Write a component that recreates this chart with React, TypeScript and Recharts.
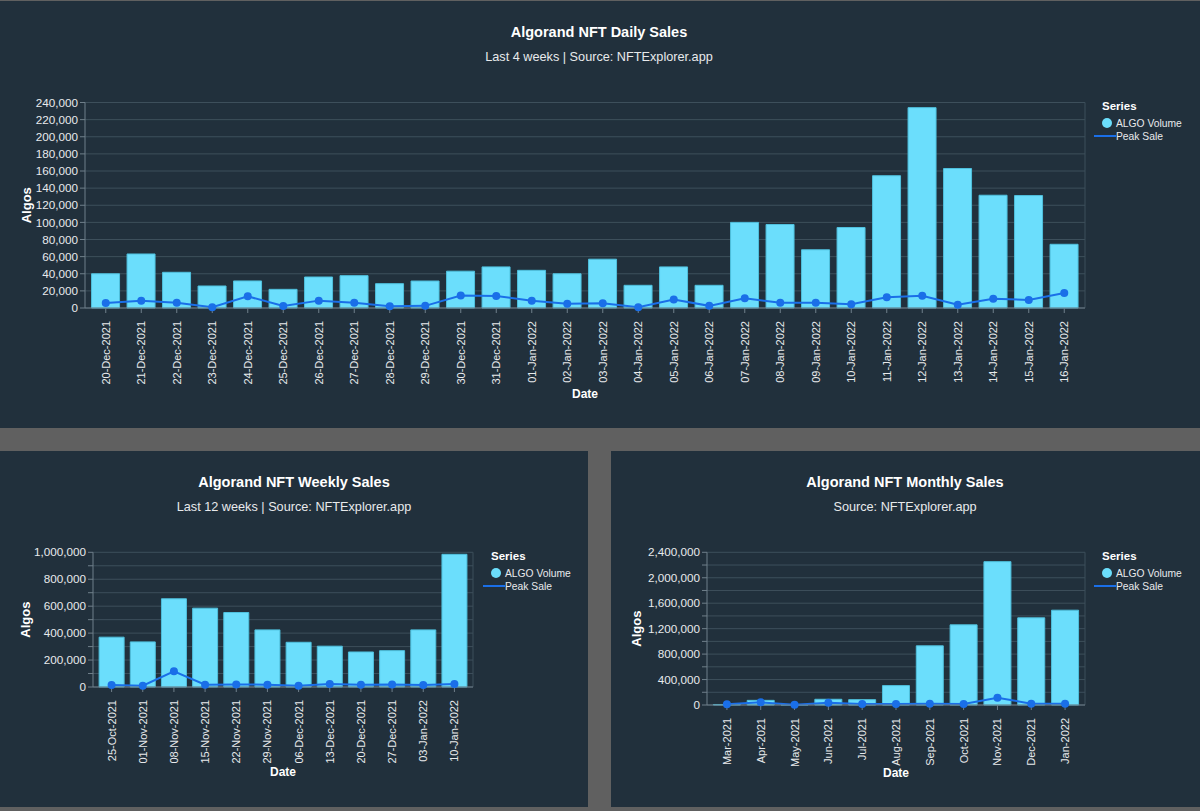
import { ComposedChart, Bar, Line, XAxis, YAxis, CartesianGrid } from 'recharts';

const dailyDates = ['20-Dec-2021', '21-Dec-2021', '22-Dec-2021', '23-Dec-2021', '24-Dec-2021', '25-Dec-2021', '26-Dec-2021', '27-Dec-2021', '28-Dec-2021', '29-Dec-2021', '30-Dec-2021', '31-Dec-2021', '01-Jan-2022', '02-Jan-2022', '03-Jan-2022', '04-Jan-2022', '05-Jan-2022', '06-Jan-2022', '07-Jan-2022', '08-Jan-2022', '09-Jan-2022', '10-Jan-2022', '11-Jan-2022', '12-Jan-2022', '13-Jan-2022', '14-Jan-2022', '15-Jan-2022', '16-Jan-2022'];
const dailyVolume = [40000, 63100, 41700, 25700, 31600, 21800, 36200, 37800, 28400, 31500, 43000, 48000, 44000, 40000, 57000, 26500, 48000, 26500, 100000, 97500, 68000, 94000, 154500, 234000, 162900, 131700, 131300, 74400];
const dailyPeak = [5800, 8600, 6200, 800, 13600, 2300, 8600, 6200, 2000, 2500, 14500, 14000, 8500, 5000, 5500, 1000, 10000, 2500, 11500, 6000, 6000, 4500, 12500, 14400, 3900, 10900, 9400, 17500];
const dailyTicks = [0, 20000, 40000, 60000, 80000, 100000, 120000, 140000, 160000, 180000, 200000, 220000, 240000];

const weeklyDates = ['25-Oct-2021', '01-Nov-2021', '08-Nov-2021', '15-Nov-2021', '22-Nov-2021', '29-Nov-2021', '06-Dec-2021', '13-Dec-2021', '20-Dec-2021', '27-Dec-2021', '03-Jan-2022', '10-Jan-2022'];
const weeklyVolume = [370000, 335000, 655000, 585000, 553000, 424000, 332000, 303000, 260000, 270000, 424000, 985000];
const weeklyPeak = [15000, 10000, 117000, 17000, 19000, 17000, 10000, 22000, 17000, 19000, 15000, 22000];
const weeklyTicks = [0, 100000, 200000, 300000, 400000, 500000, 600000, 700000, 800000, 900000, 1000000];

const monthlyDates = ['Mar-2021', 'Apr-2021', 'May-2021', 'Jun-2021', 'Jul-2021', 'Aug-2021', 'Sep-2021', 'Oct-2021', 'Nov-2021', 'Dec-2021', 'Jan-2022'];
const monthlyVolume = [8000, 73000, 5000, 90000, 84000, 305000, 930000, 1260000, 2253000, 1370000, 1490000];
const monthlyPeak = [10000, 42000, 5000, 37000, 16000, 16000, 21000, 16000, 115000, 21000, 21000];
const monthlyTicks = [0, 200000, 400000, 600000, 800000, 1000000, 1200000, 1400000, 1600000, 1800000, 2000000, 2200000, 2400000];

const FONT = '"Liberation Sans", Arial, sans-serif';
const PANEL = '#21303c';
const BAR = '#6bdefc';
const LINE = '#1a6fe8';
const TEXT = '#e8eaec';
const GRID = '#3d4f5b';

interface PanelProps {
  left: number;
  top: number;
  width: number;
  height: number;
  title: string;
  subtitle: string;
  titleCenter: number;
  dates: string[];
  volume: number[];
  peak: number[];
  ticks: number[];
  labelEvery: number;
  plotLeft: number;
  plotRight: number;
  plotTop: number;
  plotBottom: number;
  algosX: number;
  dateY: number;
  legendX: number;
  legendY: number;
}

function DateTick({ x, y, payload }: any) {
  return (
    <text
      transform={`translate(${x + 4},${y + 6}) rotate(-90)`}
      textAnchor="end"
      fill={TEXT}
      fontSize={11}
      fontFamily={FONT}
    >
      {payload.value}
    </text>
  );
}

function SalesPanel(props: PanelProps) {
  const { dates, volume, peak, ticks, labelEvery } = props;
  const data = dates.map((date, i) => ({ date, volume: volume[i], peak: peak[i] }));

  return (
    <div
      style={{
        position: 'absolute',
        left: props.left,
        top: props.top,
        width: props.width,
        height: props.height,
        background: PANEL,
        fontFamily: FONT,
        color: TEXT
      }}
    >
      <div style={{ position: 'absolute', left: 0, width: props.titleCenter * 2, top: 23, textAlign: 'center', fontSize: 14.5, fontWeight: 'bold', color: '#fff' }}>
        {props.title}
      </div>
      <div style={{ position: 'absolute', left: 0, width: props.titleCenter * 2, top: 49, textAlign: 'center', fontSize: 12.7 }}>
        {props.subtitle}
      </div>

      <ComposedChart
        width={props.width}
        height={props.height}
        data={data}
        barCategoryGap="10%"
        margin={{ top: props.plotTop, right: props.width - props.plotRight, bottom: 0, left: 0 }}
      >
        <CartesianGrid
          stroke={GRID}
          verticalCoordinatesGenerator={() => [props.plotRight]}
        />
        <XAxis
          dataKey="date"
          interval={0}
          height={props.height - props.plotBottom}
          padding={{ left: 3, right: 3 }}
          stroke="#6f7f8a"
          tickSize={5}
          tick={DateTick}
          label={{
            value: 'Date',
            position: 'insideBottom',
            offset: props.height - props.dateY,
            fill: '#fff',
            fontSize: 12,
            fontWeight: 'bold',
            fontFamily: FONT
          }}
        />
        <YAxis
          width={props.plotLeft}
          domain={[0, ticks[ticks.length - 1]]}
          ticks={ticks}
          interval={0}
          stroke="#6f7f8a"
          tickSize={5}
          tick={{ fill: TEXT, fontSize: 11.7, fontFamily: FONT }}
          tickFormatter={(v: number, i: number) => (i % labelEvery === 0 ? v.toLocaleString('en-US') : '')}
          label={{
            value: 'Algos',
            angle: -90,
            position: 'insideLeft',
            offset: props.algosX,
            style: { textAnchor: 'middle' },
            fill: '#fff',
            fontSize: 13,
            fontWeight: 'bold',
            fontFamily: FONT
          }}
        />
        <Bar dataKey="volume" fill={BAR} stroke="#4fc0dd" isAnimationActive={false} />
        <Line
          dataKey="peak"
          stroke={LINE}
          strokeWidth={2}
          dot={{ r: 4, fill: LINE, stroke: LINE, strokeWidth: 0 }}
          isAnimationActive={false}
        />
      </ComposedChart>

      <div style={{ position: 'absolute', left: props.legendX, top: props.legendY, fontSize: 10.3, lineHeight: '13px', whiteSpace: 'nowrap' }}>
        <div style={{ position: 'absolute', left: 0, top: -1, fontSize: 11.5, fontWeight: 'bold', color: '#fff' }}>Series</div>
        <div style={{ position: 'absolute', left: 0, top: 17, width: 10, height: 10, borderRadius: 5, background: BAR }} />
        <div style={{ position: 'absolute', left: 14, top: 16 }}>ALGO Volume</div>
        <div style={{ position: 'absolute', left: -8, top: 34, width: 22, height: 2, background: LINE }} />
        <div style={{ position: 'absolute', left: 14, top: 29 }}>Peak Sale</div>
      </div>
    </div>
  );
}

export default function App() {
  return (
    <div style={{ position: 'absolute', left: 0, top: 0, width: 1200, height: 811, background: '#606060', overflow: 'hidden' }}>
      <SalesPanel
        left={0} top={1} width={1200} height={427}
        title="Algorand NFT Daily Sales"
        subtitle="Last 4 weeks | Source: NFTExplorer.app"
        titleCenter={599}
        dates={dailyDates} volume={dailyVolume} peak={dailyPeak} ticks={dailyTicks} labelEvery={1}
        plotLeft={85} plotRight={1085} plotTop={101.5} plotBottom={307}
        algosX={26} dateY={397} legendX={1102} legendY={100}
      />
      <SalesPanel
        left={0} top={451} width={588} height={356}
        title="Algorand NFT Weekly Sales"
        subtitle="Last 12 weeks | Source: NFTExplorer.app"
        titleCenter={294}
        dates={weeklyDates} volume={weeklyVolume} peak={weeklyPeak} ticks={weeklyTicks} labelEvery={2}
        plotLeft={93} plotRight={473} plotTop={101.3} plotBottom={236}
        algosX={25} dateY={325} legendX={491} legendY={100}
      />
      <SalesPanel
        left={611} top={451} width={589} height={356}
        title="Algorand NFT Monthly Sales"
        subtitle="Source: NFTExplorer.app"
        titleCenter={294}
        dates={monthlyDates} volume={monthlyVolume} peak={monthlyPeak} ticks={monthlyTicks} labelEvery={2}
        plotLeft={96} plotRight={474} plotTop={101.3} plotBottom={254}
        algosX={25} dateY={326} legendX={491} legendY={100}
      />
    </div>
  );
}
